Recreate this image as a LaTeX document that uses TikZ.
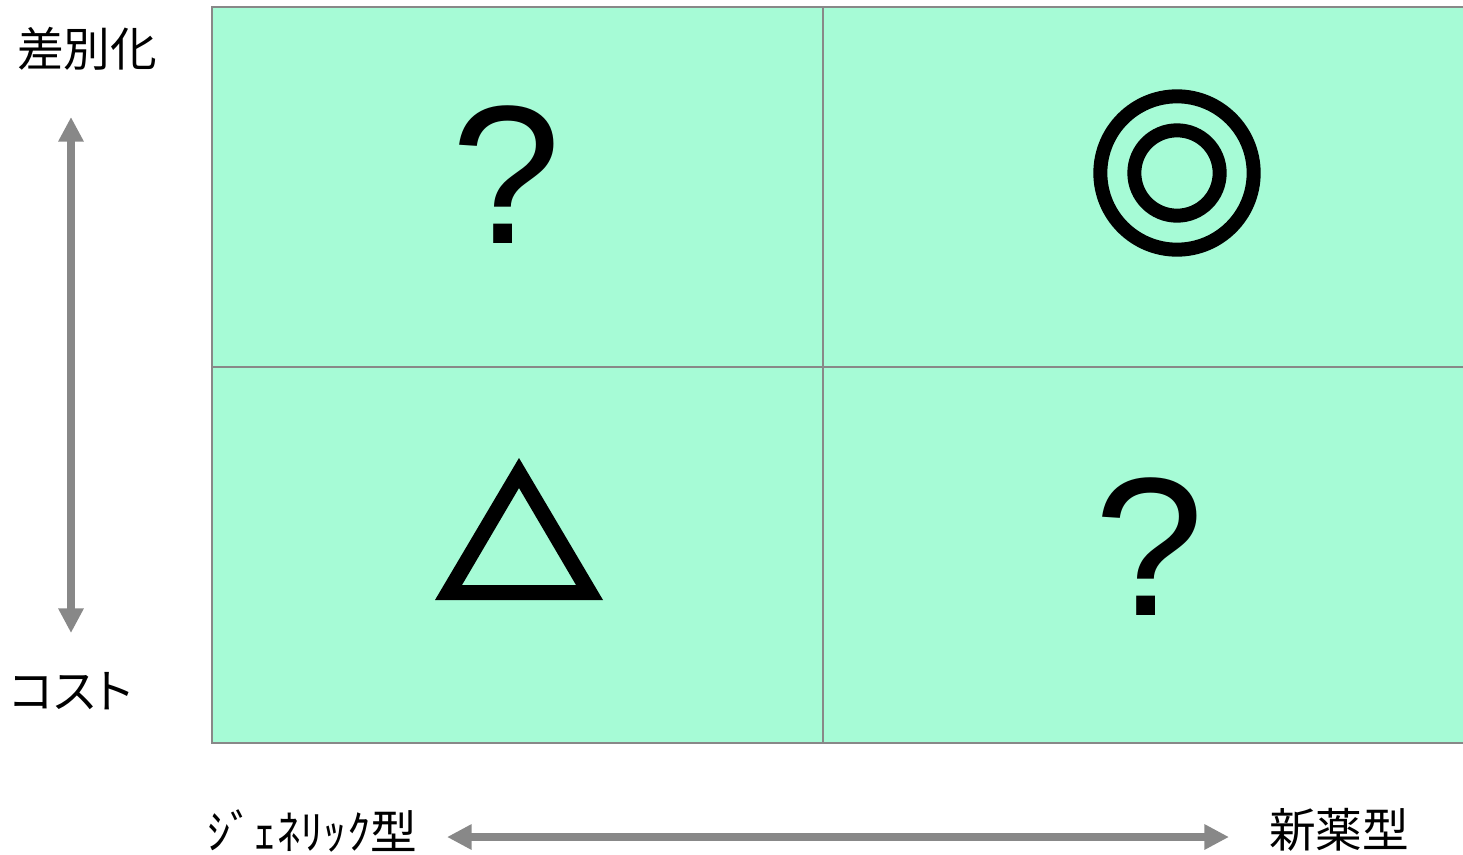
\documentclass[tikz,border=0pt]{standalone}
\usepackage{fontspec}
\setmainfont{Liberation Sans}
\newfontfamily\jpfont{Noto Sans CJK JP}
\newfontfamily\jppfont[RawFeature={+palt}]{Noto Sans CJK JP}
\usetikzlibrary{arrows.meta}
\definecolor{cellgreen}{RGB}{166,251,214}
\definecolor{linegray}{RGB}{136,136,136}
\begin{document}
\begin{tikzpicture}[x=0.75pt,y=-0.75pt,
    axistext/.style={font=\jpfont\fontsize{35}{40}\selectfont,inner sep=0pt},
    bigsign/.style={font=\fontsize{148}{160}\selectfont,inner sep=0pt},
    axis/.style={draw=linegray,line width=6pt,
        {Triangle[length=18.5pt,width=18pt]}-{Triangle[length=18.5pt,width=18pt]}}]
    \useasboundingbox (0,0) rectangle (1463,854);
    % grid
    \fill[cellgreen] (212,7) rectangle (1470,743);
    \draw[linegray,line width=1.5pt] (1470,7) -- (212,7) -- (212,743) -- (1470,743)
        (823,7) -- (823,743) (212,367) -- (1470,367);
    % cells
    \node[bigsign] (qtop) at (506,175) {?};
    \node[bigsign] (qbot) at (1149,547) {?};
    \draw[line width=10.5pt] (1177,173) circle [radius=57.5pt]
        (1177,173) circle [radius=32pt];
    \fill[even odd rule] (519,458) -- (435,600) -- (603,600) -- cycle
        (519,488) -- (462,585) -- (576,585) -- cycle;
    % axes
    \node[axistext] (diff) at (87,49) {差別化};
    \node[axistext,font=\jppfont\fontsize{35}{40}\selectfont] (cost) at (71,691) {コスト};
    \node[axistext] (generic) at (312,831) {ｼﾞｪﾈﾘｯｸ型};
    \node[axistext] (newdrug) at (1339,830) {新薬型};
    \coordinate (uptip) at (71,117);
    \coordinate (downtip) at (71,633);
    \coordinate (lefttip) at (447,837);
    \coordinate (righttip) at (1229,837);
    \draw[axis] (downtip) -- (uptip);
    \draw[axis] (lefttip) -- (righttip);
\end{tikzpicture}
\end{document}
